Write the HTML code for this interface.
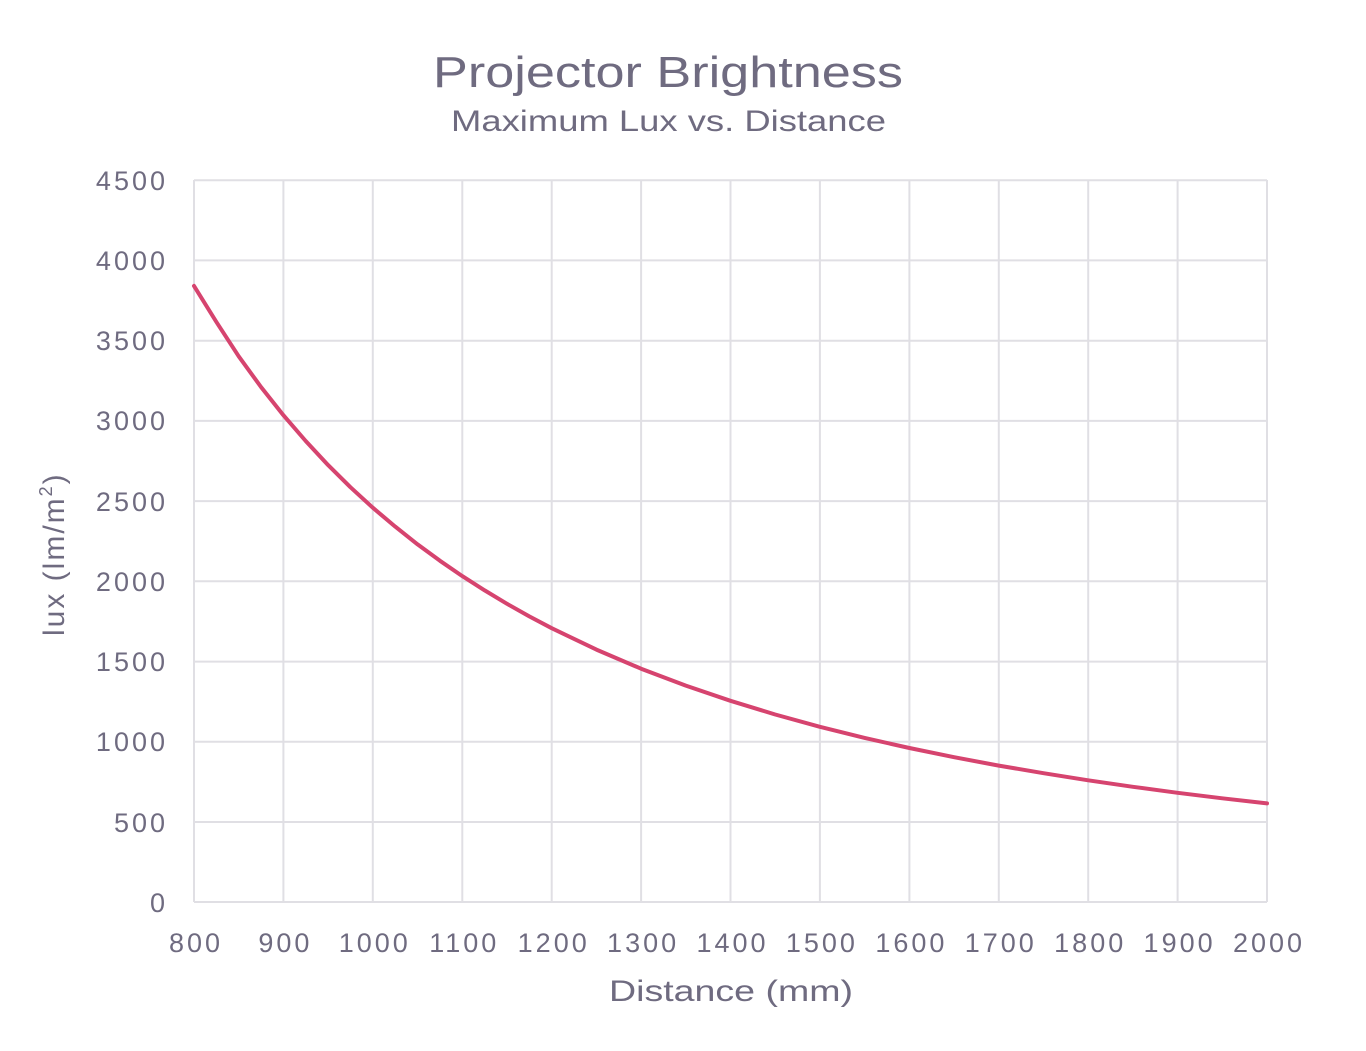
<!DOCTYPE html>
<html><head><meta charset="utf-8"><style>html,body{margin:0;padding:0;background:#fff}</style></head>
<body>
<svg width="1366" height="1046" xmlns="http://www.w3.org/2000/svg" font-family="Liberation Sans, sans-serif" fill="#6f6b80">
<rect width="1366" height="1046" fill="#fff"/>
<g stroke="#e0dfe4" stroke-width="2">
<line x1="194" y1="180.2" x2="1267" y2="180.2"/><line x1="194" y1="260.4" x2="1267" y2="260.4"/>
<line x1="194" y1="340.7" x2="1267" y2="340.7"/><line x1="194" y1="420.9" x2="1267" y2="420.9"/>
<line x1="194" y1="501.1" x2="1267" y2="501.1"/><line x1="194" y1="581.3" x2="1267" y2="581.3"/>
<line x1="194" y1="661.6" x2="1267" y2="661.6"/><line x1="194" y1="741.8" x2="1267" y2="741.8"/>
<line x1="194" y1="822" x2="1267" y2="822"/><line x1="194" y1="902" x2="1267" y2="902"/>
<line x1="194" y1="180" x2="194" y2="902"/><line x1="283.4" y1="180" x2="283.4" y2="902"/>
<line x1="372.8" y1="180" x2="372.8" y2="902"/><line x1="462.3" y1="180" x2="462.3" y2="902"/>
<line x1="551.7" y1="180" x2="551.7" y2="902"/><line x1="641.1" y1="180" x2="641.1" y2="902"/>
<line x1="730.5" y1="180" x2="730.5" y2="902"/><line x1="819.9" y1="180" x2="819.9" y2="902"/>
<line x1="909.4" y1="180" x2="909.4" y2="902"/><line x1="998.8" y1="180" x2="998.8" y2="902"/>
<line x1="1088.2" y1="180" x2="1088.2" y2="902"/><line x1="1177.6" y1="180" x2="1177.6" y2="902"/>
<line x1="1267" y1="180" x2="1267" y2="902"/>
</g>
<polyline fill="none" stroke="#d6446f" stroke-width="4" stroke-linejoin="round" stroke-linecap="round"
points="194,285.9 216.4,322 238.7,356.3 261,387 283.4,415.2 305.7,441 328.1,465.1 350.4,487.2 372.8,507.7 395.2,526.6 417.6,544.4 440,560.8 462.3,576.1 484.7,590.4 507,603.8 529.3,616.4 551.7,628.2 596.4,649.6 641.1,668.7 685.8,685.6 730.5,700.8 775.2,714.5 819.9,726.8 864.7,737.9 909.4,748 954.1,757.2 998.8,765.6 1043.5,773.2 1088.2,780.3 1132.9,786.8 1177.6,792.8 1222.3,798.3 1267,803.4"/>
<text x="433" y="87" font-size="44" textLength="470" lengthAdjust="spacingAndGlyphs">Projector Brightness</text>
<text x="451" y="131" font-size="30" textLength="435" lengthAdjust="spacingAndGlyphs">Maximum Lux vs. Distance</text>
<g font-size="27" text-anchor="end" letter-spacing="3">
<text x="168" y="190">4500</text><text x="168" y="270">4000</text><text x="168" y="350">3500</text>
<text x="168" y="430">3000</text><text x="168" y="511">2500</text><text x="168" y="591">2000</text>
<text x="168" y="671">1500</text><text x="168" y="751">1000</text><text x="168" y="832">500</text>
<text x="168" y="912">0</text>
</g>
<g font-size="27" text-anchor="middle" letter-spacing="3">
<text x="196" y="952">800</text><text x="285.4" y="952">900</text><text x="374.8" y="952">1000</text>
<text x="464.3" y="952">1100</text><text x="553.7" y="952">1200</text><text x="643.1" y="952">1300</text>
<text x="732.5" y="952">1400</text><text x="821.9" y="952">1500</text><text x="911.4" y="952">1600</text>
<text x="1000.8" y="952">1700</text><text x="1090.2" y="952">1800</text><text x="1179.6" y="952">1900</text>
<text x="1269" y="952">2000</text>
</g>
<text x="609" y="1001" font-size="30" textLength="244" lengthAdjust="spacingAndGlyphs">Distance (mm)</text>
<text transform="translate(64,636) rotate(-90)" font-size="30" letter-spacing="2">lux (lm/m<tspan font-size="18" dy="-12">2</tspan><tspan dy="12">)</tspan></text>
</svg>
</body></html>
